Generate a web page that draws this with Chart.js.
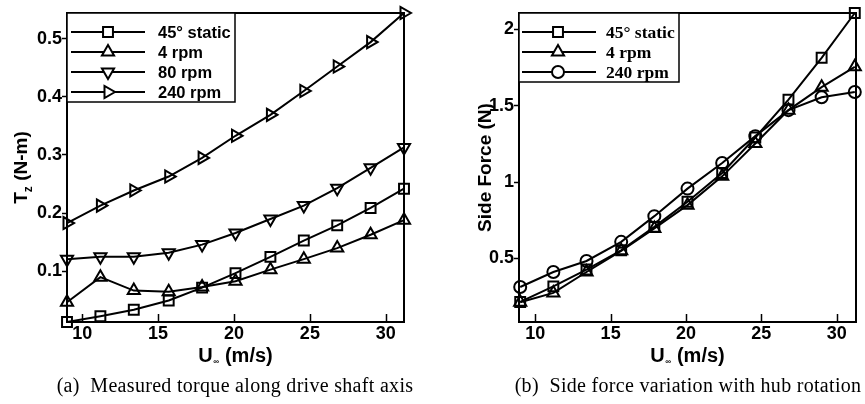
<!DOCTYPE html>
<html>
<head>
<meta charset="utf-8">
<script src="https://cdn.jsdelivr.net/npm/chart.js@4.4.1/dist/chart.umd.min.js"></script>
<style>
  html, body { margin: 0; padding: 0; background: #fff; }
  #wrap { position: relative; width: 865px; height: 404px; overflow: hidden; }
  canvas { position: absolute; top: 0; }
  .cap { position: absolute; font-family: "Liberation Serif", "Times New Roman", serif; font-size: 20px; letter-spacing: 0.3px; color: #000; white-space: pre; line-height: 22px; transform: translateX(-50%); }
</style>
</head>
<body>
<div id="wrap">
  <canvas id="c1" width="430" height="404" style="left:0"></canvas>
  <canvas id="c2" width="435" height="404" style="left:430px"></canvas>
  <div class="cap" style="left:235px; top:374px">(a)  Measured torque along drive shaft axis</div>
  <div class="cap" style="left:688px; top:374px">(b)  Side force variation with hub rotation</div>
</div>
<script>
// ---------- data ----------
const speeds = [9.0, 11.2, 13.4, 15.7, 17.9, 20.1, 22.4, 24.6, 26.8, 29.0, 31.2];

const torqueLabels = ['45\u00B0 static', '4 rpm', '80 rpm', '240 rpm'];
const torqueStatic = [0.013, 0.023, 0.034, 0.050, 0.072, 0.097, 0.125, 0.153, 0.179, 0.209, 0.242];
const torque4rpm   = [0.047, 0.090, 0.067, 0.065, 0.073, 0.083, 0.103, 0.121, 0.140, 0.163, 0.188];
const torque80rpm  = [0.121, 0.125, 0.125, 0.132, 0.146, 0.166, 0.190, 0.213, 0.243, 0.278, 0.313];
const torque240rpm = [0.183, 0.213, 0.239, 0.263, 0.295, 0.333, 0.369, 0.410, 0.452, 0.494, 0.544];

const sideLabels = ['45\u00B0 static', '4 rpm', '240 rpm'];
const sideStatic = [0.216, 0.318, 0.428, 0.554, 0.707, 0.871, 1.059, 1.291, 1.539, 1.812, 2.105];
const side4rpm   = [0.214, 0.275, 0.412, 0.550, 0.697, 0.849, 1.037, 1.252, 1.470, 1.620, 1.753];
const side240rpm = [0.314, 0.412, 0.484, 0.609, 0.777, 0.957, 1.124, 1.300, 1.470, 1.554, 1.589];

const xTicksVals = [10, 15, 20, 25, 30];
const torqueTicks = [0.1, 0.2, 0.3, 0.4, 0.5];
const sideTicks = [0.5, 1, 1.5, 2];

// ---------- helpers ----------
const SANS = '"Liberation Sans", Arial, Helvetica, sans-serif';
const SERIF = '"Liberation Serif", "Times New Roman", serif';

function pts(ys) { return speeds.map((x, i) => ({ x: x, y: ys[i] })); }

function ds(label, ys, style, rotation, radius) {
  return {
    label: label,
    data: pts(ys),
    showLine: true,
    borderColor: '#000',
    borderWidth: 2,
    pointStyle: style,
    rotation: rotation,
    pointRadius: radius,
    pointHoverRadius: radius,
    pointBorderColor: '#000',
    pointBackgroundColor: 'rgba(255,255,255,0)',
    pointBorderWidth: 2,
    clip: false,
    tension: 0
  };
}

const framePlugin = {
  id: 'frame',
  afterDraw(chart, args, o) {
    const ctx = chart.ctx, a = chart.chartArea;
    const xs = chart.scales.x;
    ctx.save();
    // plot frame
    ctx.strokeStyle = '#000';
    ctx.lineWidth = 2;
    ctx.strokeRect(a.left, a.top, a.right - a.left, a.bottom - a.top);
    // inward x ticks
    ctx.lineWidth = 1.5;
    ctx.beginPath();
    o.xTicks.forEach(v => {
      const px = Math.round(xs.getPixelForValue(v)) + 0.5;
      ctx.moveTo(px, a.bottom);
      ctx.lineTo(px, a.bottom - 8);
    });
    ctx.stroke();
    // legend
    const L = o.legend;
    ctx.fillStyle = '#fff';
    ctx.fillRect(a.left, a.top, L.w, L.h);
    ctx.lineWidth = 1.5;
    ctx.strokeRect(a.left, a.top, L.w, L.h);
    chart.data.datasets.forEach((d, i) => {
      const y = a.top + L.row0 + i * L.rowH;
      ctx.strokeStyle = '#000';
      ctx.lineWidth = 2;
      ctx.beginPath();
      ctx.moveTo(a.left + L.x1, y);
      ctx.lineTo(a.left + L.x2, y);
      ctx.stroke();
      ctx.fillStyle = '#fff';
      Chart.helpers.drawPoint(ctx, {
        pointStyle: d.pointStyle, rotation: d.rotation,
        radius: d.pointRadius, borderWidth: 2
      }, a.left + L.xm, y);
      ctx.fillStyle = '#000';
      ctx.font = L.font;
      ctx.textAlign = 'left';
      ctx.textBaseline = 'middle';
      ctx.fillText(d.label, a.left + L.xt, y + 1);
    });
    // x title: U∞ (m/s)
    ctx.fillStyle = '#000';
    ctx.textBaseline = 'alphabetic';
    ctx.textAlign = 'left';
    const big = 'bold 20px ' + SANS, small = 'bold 8px ' + SANS;
    ctx.font = big; const wU = ctx.measureText('U').width;
    ctx.font = small; const wInf = ctx.measureText('\u221E').width;
    ctx.font = big; const wRest = ctx.measureText(' (m/s)').width;
    const total = wU + wInf + 1 + wRest;
    let tx = (a.left + a.right) / 2 - total / 2;
    const by = o.xTitleY;
    ctx.font = big; ctx.fillText('U', tx, by); tx += wU + 0.5;
    ctx.font = small; ctx.fillText('\u221E', tx, by + 2); tx += wInf + 0.5;
    ctx.font = big; ctx.fillText(' (m/s)', tx, by);
    // y title (rotated)
    ctx.save();
    const cy = (a.top + a.bottom) / 2;
    ctx.translate(o.yTitleX, cy);
    ctx.rotate(-Math.PI / 2);
    const segs = o.yTitle;
    let tw = 0;
    segs.forEach(s => { ctx.font = s.font; s.w = ctx.measureText(s.t).width; tw += s.w; });
    let u = -tw / 2;
    segs.forEach(s => { ctx.font = s.font; ctx.fillText(s.t, u, s.dy || 0); u += s.w; });
    ctx.restore();
    ctx.restore();
  }
};

function makeOptions(cfg) {
  return {
    responsive: false,
    animation: false,
    devicePixelRatio: 1,
    layout: { padding: cfg.padding },
    plugins: {
      legend: { display: false },
      tooltip: { enabled: false },
      frame: cfg.frame
    },
    scales: {
      x: {
        type: 'linear',
        min: cfg.xMin, max: cfg.xMax,
        afterFit(s) { s.height = cfg.xAxisH; },
        afterBuildTicks(s) { s.ticks = xTicksVals.map(v => ({ value: v })); },
        grid: { display: false, drawTicks: false },
        border: { display: false },
        ticks: {
          padding: 1,
          color: '#000',
          maxRotation: 0,
          font: { family: SANS, size: 18, weight: 'bold' },
          callback: v => String(v)
        }
      },
      y: {
        type: 'linear',
        min: cfg.yMin, max: cfg.yMax,
        afterFit(s) { s.width = cfg.yAxisW; },
        afterBuildTicks(s) { s.ticks = cfg.yTicks.map(v => ({ value: v })); },
        grid: { drawOnChartArea: false, drawTicks: true, tickLength: 5, tickWidth: 1.5, tickColor: '#000' },
        border: { display: false },
        ticks: {
          padding: 0,
          color: '#000',
          font: { family: SANS, size: 18, weight: 'bold' },
          callback: v => String(+v.toFixed(2))
        }
      }
    }
  };
}

new Chart(document.getElementById('c1'), {
  type: 'scatter',
  data: {
    datasets: [
      ds(torqueLabels[0], torqueStatic, 'rect', 0, 7),
      ds(torqueLabels[1], torque4rpm, 'triangle', 0, 7),
      ds(torqueLabels[2], torque80rpm, 'triangle', 180, 7),
      ds(torqueLabels[3], torque240rpm, 'triangle', 90, 7)
    ]
  },
  options: makeOptions({
    padding: { top: 13, right: 26, bottom: 52, left: 0 },
    xMin: 9.0, xMax: 31.2, yMin: 0.013, yMax: 0.544,
    xAxisH: 30, yAxisW: 67, yTicks: torqueTicks,
    frame: {
      xTicks: xTicksVals,
      xTitleY: 361.5,
      yTitleX: 26.5,
      yTitle: [
        { t: 'T', font: 'bold 19px ' + SANS },
        { t: 'z', font: 'bold 12px ' + SANS, dy: 5 },
        { t: ' (N-m)', font: 'bold 19px ' + SANS }
      ],
      legend: { w: 168, h: 89, row0: 19, rowH: 20, x1: 4, x2: 78, xm: 41, xt: 91,
                font: 'bold 16.5px ' + SANS }
    }
  }),
  plugins: [framePlugin]
});

new Chart(document.getElementById('c2'), {
  type: 'scatter',
  data: {
    datasets: [
      ds(sideLabels[0], sideStatic, 'rect', 0, 7),
      ds(sideLabels[1], side4rpm, 'triangle', 0, 7),
      ds(sideLabels[2], side240rpm, 'circle', 0, 6)
    ]
  },
  options: makeOptions({
    padding: { top: 13, right: 8, bottom: 52, left: 0 },
    xMin: 8.92, xMax: 31.28, yMin: 0.085, yMax: 2.105,
    xAxisH: 30, yAxisW: 89, yTicks: sideTicks,
    frame: {
      xTicks: xTicksVals,
      xTitleY: 361.5,
      yTitleX: 61,
      yTitle: [
        { t: 'Side Force (N)', font: 'bold 19px ' + SANS }
      ],
      legend: { w: 160, h: 69, row0: 19, rowH: 20, x1: 3, x2: 77, xm: 39, xt: 87,
                font: 'bold 17.5px ' + SERIF }
    }
  }),
  plugins: [framePlugin]
});
</script>
</body>
</html>
